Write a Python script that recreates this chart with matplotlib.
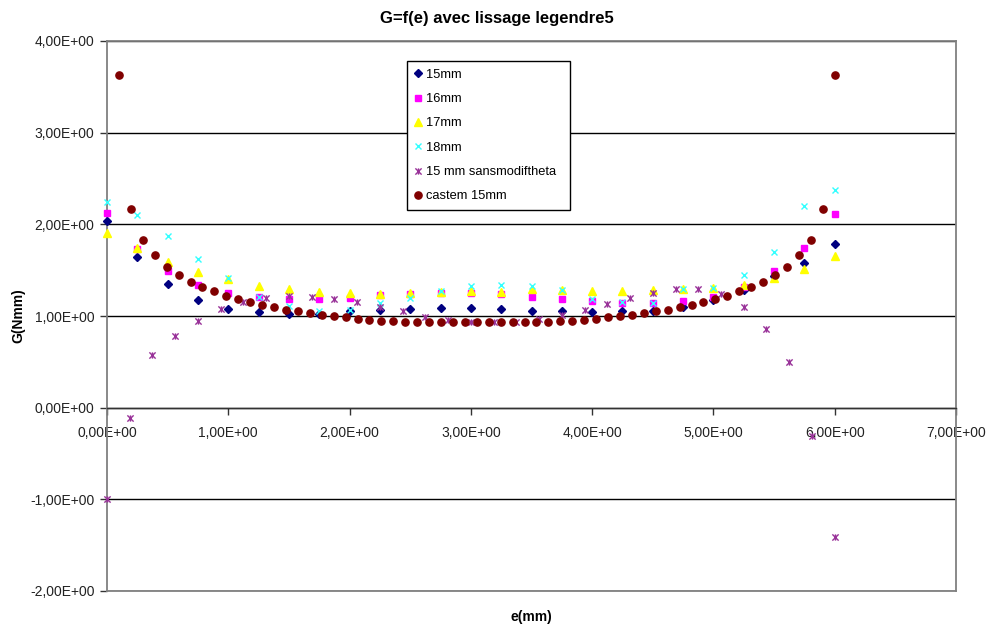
import matplotlib
matplotlib.use("Agg")
import matplotlib.pyplot as plt
from matplotlib.path import Path
from matplotlib.ticker import FuncFormatter, MultipleLocator

plt.rcParams['font.family'] = ['Liberation Sans', 'DejaVu Sans']

# ---- data ----
x_std = [0.0, 0.25, 0.5, 0.75, 1.0, 1.25, 1.5, 1.75, 2.0, 2.25, 2.5, 2.75, 3.0,
         3.25, 3.5, 3.75, 4.0, 4.25, 4.5, 4.75, 5.0, 5.25, 5.5, 5.75, 6.0]
g_15mm = [2.04, 1.64, 1.35, 1.18, 1.08, 1.04, 1.02, 1.02, 1.05, 1.07, 1.08, 1.09, 1.09,
          1.08, 1.06, 1.05, 1.04, 1.05, 1.06, 1.10, 1.17, 1.28, 1.44, 1.58, 1.79]
g_16mm = [2.12, 1.73, 1.49, 1.34, 1.25, 1.21, 1.19, 1.19, 1.20, 1.23, 1.24, 1.25, 1.25,
          1.24, 1.21, 1.19, 1.16, 1.14, 1.14, 1.16, 1.21, 1.32, 1.49, 1.74, 2.11]
g_17mm = [1.91, 1.74, 1.59, 1.48, 1.40, 1.33, 1.30, 1.26, 1.25, 1.24, 1.25, 1.26, 1.27,
          1.26, 1.29, 1.28, 1.27, 1.27, 1.28, 1.30, 1.31, 1.34, 1.41, 1.51, 1.65]
g_18mm = [2.24, 2.10, 1.87, 1.62, 1.41, 1.21, 1.11, 1.06, 1.07, 1.14, 1.20, 1.27, 1.33,
          1.34, 1.33, 1.28, 1.19, 1.15, 1.14, 1.30, 1.31, 1.45, 1.70, 2.20, 2.38]

x_sans = [0.0, 0.1875, 0.375, 0.5625, 0.75, 0.9375, 1.125, 1.3125, 1.5, 1.6875, 1.875,
          2.0625, 2.25, 2.4375, 2.625, 2.8125, 3.0, 3.1875, 3.375, 3.5625, 3.75, 3.9375,
          4.125, 4.3125, 4.5, 4.6875, 4.875, 5.0625, 5.25, 5.4375, 5.625, 5.8125, 6.0]
g_sans = [-1.00, -0.11, 0.58, 0.78, 0.95, 1.08, 1.15, 1.20, 1.22, 1.21, 1.19,
          1.15, 1.10, 1.05, 0.99, 0.96, 0.94, 0.93, 0.94, 0.97, 1.01, 1.07,
          1.13, 1.20, 1.25, 1.30, 1.30, 1.24, 1.10, 0.86, 0.50, -0.31, -1.41]

x_castem = [0.0984, 0.1967, 0.2951, 0.3934, 0.4918, 0.5902, 0.6885, 0.7869, 0.8852, 0.9836,
            1.0820, 1.1803, 1.2787, 1.3770, 1.4754, 1.5738, 1.6721, 1.7705, 1.8689, 1.9672,
            2.0656, 2.1639, 2.2623, 2.3607, 2.4590, 2.5574, 2.6557, 2.7541, 2.8525, 2.9508,
            3.0492, 3.1475, 3.2459, 3.3443, 3.4426, 3.5410, 3.6393, 3.7377, 3.8361, 3.9344,
            4.0328, 4.1311, 4.2295, 4.3279, 4.4262, 4.5246, 4.6230, 4.7213, 4.8197, 4.9180,
            5.0164, 5.1148, 5.2131, 5.3115, 5.4098, 5.5082, 5.6066, 5.7049, 5.8033, 5.9016,
            6.0]
g_castem = [3.63, 2.17, 1.83, 1.66, 1.54, 1.45, 1.37, 1.32, 1.27, 1.22,
            1.19, 1.15, 1.12, 1.10, 1.07, 1.05, 1.03, 1.01, 1.00, 0.99,
            0.97, 0.96, 0.95, 0.95, 0.94, 0.93, 0.93, 0.93, 0.93, 0.93,
            0.93, 0.93, 0.93, 0.93, 0.93, 0.94, 0.94, 0.95, 0.95, 0.96,
            0.97, 0.99, 1.00, 1.01, 1.03, 1.05, 1.07, 1.10, 1.12, 1.15,
            1.19, 1.22, 1.27, 1.32, 1.37, 1.45, 1.54, 1.66, 1.83, 2.17,
            3.63]

labels = ["15mm", "16mm", "17mm", "18mm", "15 mm sansmodiftheta", "castem 15mm"]
title = "G=f(e) avec lissage legendre5"
xlabel = "e(mm)"
ylabel = "G(Nmm)"

# ---- figure ----
W, H = 988, 628
fig = plt.figure(figsize=(W / 100, H / 100), dpi=100)
fig.patch.set_facecolor('white')
L, R, T, B = 107, 956, 41, 591
ax = fig.add_axes([L / W, 1 - B / H, (R - L) / W, (B - T) / H])
ax.set_xlim(0, 7)
ax.set_ylim(-2, 4)

star = Path([(-1, -1), (1, 1), (-1, 1), (1, -1), (0, -1), (0, 1)],
            [Path.MOVETO, Path.LINETO, Path.MOVETO, Path.LINETO, Path.MOVETO, Path.LINETO])

common = dict(ls='none', zorder=3, clip_on=False)
ax.plot(x_std, g_15mm, marker='D', ms=4.3, color='#000080', label=labels[0], **common)
ax.plot(x_std, g_16mm, marker='s', ms=5, color='#FF00FF', label=labels[1], **common)
ax.plot(x_std, g_17mm, marker='^', ms=5.8, color='#FFFF00', label=labels[2], **common)
ax.plot(x_std, g_18mm, marker='x', ms=4.5, mew=1, color='#33FFFF', label=labels[3], **common)
ax.plot(x_sans, g_sans, marker=star, ms=4.5, mew=1, color='#993399',
        mfc='none', label=labels[4], **common)
ax.plot(x_castem, g_castem, marker='o', ms=5.2, color='#800000', label=labels[5], **common)

# grid
ax.yaxis.set_major_locator(MultipleLocator(1))
ax.xaxis.set_major_locator(MultipleLocator(1))
ax.yaxis.grid(True, color='black', lw=1)
ax.set_axisbelow(True)

fmt = FuncFormatter(lambda v, p: ("%.2E" % v).replace('.', ','))
ax.xaxis.set_major_formatter(fmt)
ax.yaxis.set_major_formatter(fmt)

for s in ['top', 'right', 'left']:
    ax.spines[s].set_color('#808080')
    ax.spines[s].set_linewidth(1.3)
ax.spines['bottom'].set_position(('data', 0))
ax.spines['bottom'].set_color('#333333')
ax.spines['bottom'].set_linewidth(1)
ax.axhline(-2, color='#808080', lw=1.3, clip_on=False, zorder=5)

ax.tick_params(axis='y', direction='out', length=5, width=1, color='#333333',
               pad=4, labelsize=10, labelcolor='#222222')
ax.tick_params(axis='x', direction='out', length=5, width=1, color='#333333',
               pad=8.5, labelsize=10, labelcolor='#222222')

fig.text(497 / W, 1 - 18 / H, title, ha='center', va='center', fontsize=12, fontweight='bold')
fig.text(531 / W, 1 - 617 / H, xlabel, ha='center', va='center', fontsize=10, fontweight='bold')
fig.text(18 / W, 1 - 316 / H, ylabel, ha='center', va='center', fontsize=10,
         fontweight='bold', rotation=90)

leg = ax.legend(loc='upper left', bbox_to_anchor=(407 / W, 1 - 209 / H, 163 / W, 148 / H),
                bbox_transform=fig.transFigure, mode='expand', fontsize=9.3, frameon=True,
                fancybox=False, edgecolor='black', framealpha=1, borderpad=0.6,
                handlelength=0.5, handletextpad=0.4, labelspacing=0.95,
                borderaxespad=0, markerscale=1.0)
leg.get_frame().set_linewidth(1)

fig.savefig('out.png', dpi=100, facecolor='white')
